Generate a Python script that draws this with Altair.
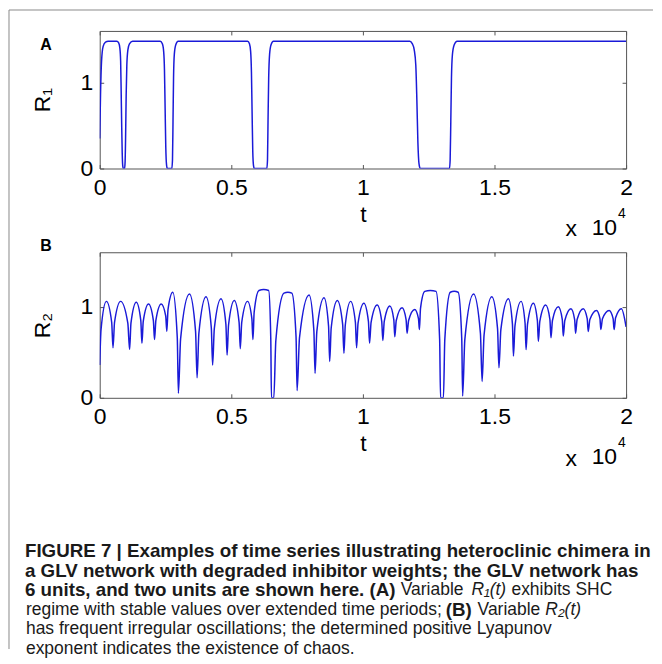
import altair as alt
import pandas as pd

# ---------------- data ----------------
t_domain = [0, 20000]
y_domain = [0, 1.6]
x_tick_values = [0, 5000, 10000, 15000, 20000]
x_tick_labels = ["0", "0.5", "1", "1.5", "2"]
y_tick_values = [0, 1]

# Panel A: R1(t)
r1_t = [0, 30, 70, 130, 220, 320, 650, 720, 765, 795, 815, 835, 855, 875, 900, 945,
        965, 985, 1005, 1030, 1070, 1130, 1250,
        2300, 2380, 2430, 2460, 2485, 2510, 2540, 2570, 2740, 2765, 2785, 2805, 2835, 2890, 2980,
        5620, 5690, 5735, 5765, 5790, 5815, 5845, 5875, 6350, 6375, 6395, 6420, 6455, 6510, 6600,
        11780, 11880, 11950, 12010, 12050, 12090, 12130, 12180, 13290, 13315, 13340, 13365, 13400,
        13470, 13580, 20000]
r1_v = [0.35, 0.85, 1.25, 1.42, 1.47, 1.48, 1.48, 1.46, 1.40, 1.25, 0.90, 0.50, 0.18, 0.03, 0.00, 0.00,
        0.08, 0.40, 0.85, 1.20, 1.38, 1.45, 1.48,
        1.48, 1.45, 1.36, 1.15, 0.70, 0.25, 0.04, 0.00, 0.00, 0.10, 0.55, 1.05, 1.33, 1.44, 1.48,
        1.48, 1.45, 1.36, 1.12, 0.65, 0.20, 0.03, 0.00, 0.00, 0.10, 0.55, 1.05, 1.33, 1.44, 1.48,
        1.48, 1.45, 1.38, 1.20, 0.80, 0.30, 0.06, 0.00, 0.00, 0.10, 0.55, 1.05, 1.32,
        1.44, 1.48, 1.48]

# Panel B: R2(t)
r2_t = [0, 50, 253,
        455, 505, 563, 795,
        1068, 1136, 1187, 1390,
        1561, 1604, 1654, 1856,
        2038, 2083, 2134, 2337,
        2507, 2550, 2595, 2777,
        2947, 2990, 3074, 3409,
        3642, 3700, 3768, 4040,
        4240, 4290, 4354, 4609,
        4794, 4840, 4895, 5114,
        5296, 5341, 5396, 5617,
        5781, 5822, 5868, 6050, 6230, 6420,
        6500, 6525, 6615, 6692, 7000, 7150, 7300,
        7460, 7500, 7591, 7955,
        8137, 8182, 8250, 8523,
        8695, 8738, 8796, 9028,
        9230, 9280, 9331, 9533,
        9715, 9760, 9816, 10038,
        10210, 10253, 10311, 10543,
        10715, 10758, 10811, 11023,
        11174, 11212, 11267, 11489,
        11641, 11679, 11737, 11970,
        12112, 12147, 12188, 12350, 12560, 12780,
        12916, 12950, 13060, 13112, 13320, 13470, 13620,
        13756, 13790, 13873, 14205,
        14465, 14530, 14604, 14899,
        15116, 15170, 15242, 15530,
        15682, 15720, 15778, 16010,
        16162, 16200, 16255, 16477,
        16629, 16667, 16722, 16944,
        17106, 17146, 17202, 17424,
        17576, 17614, 17672, 17905,
        18046, 18081, 18139, 18371,
        18523, 18561, 18624, 18876,
        19007, 19040, 19103, 19356,
        19507, 19545, 19601, 19823,
        20000]
r2_v = [0.36, 0.75, 1.06,
        0.83, 0.55, 0.83, 1.06,
        0.82, 0.53, 0.82, 1.05,
        0.85, 0.60, 0.84, 1.03,
        0.85, 0.64, 0.85, 1.03,
        0.90, 0.73, 0.97, 1.16,
        0.66, 0.05, 0.65, 1.14,
        0.73, 0.22, 0.71, 1.11,
        0.77, 0.36, 0.76, 1.09,
        0.81, 0.47, 0.80, 1.07,
        0.83, 0.54, 0.83, 1.06,
        0.87, 0.64, 0.94, 1.18, 1.19, 1.18,
        0.65, 0.00, 0.00, 0.63, 1.15, 1.16, 1.15,
        0.67, 0.08, 0.66, 1.13,
        0.74, 0.27, 0.73, 1.10,
        0.79, 0.40, 0.77, 1.07,
        0.81, 0.49, 0.80, 1.06,
        0.83, 0.55, 0.82, 1.04,
        0.84, 0.60, 0.83, 1.02,
        0.84, 0.63, 0.84, 1.01,
        0.86, 0.67, 0.85, 0.99,
        0.86, 0.71, 0.85, 0.97,
        0.87, 0.75, 0.98, 1.17, 1.18, 1.17,
        0.64, 0.00, 0.00, 0.64, 1.16, 1.17, 1.16,
        0.65, 0.02, 0.64, 1.14,
        0.71, 0.18, 0.69, 1.11,
        0.76, 0.33, 0.75, 1.09,
        0.81, 0.46, 0.79, 1.06,
        0.82, 0.53, 0.81, 1.04,
        0.85, 0.62, 0.84, 1.02,
        0.86, 0.66, 0.85, 1.00,
        0.86, 0.68, 0.85, 0.98,
        0.86, 0.71, 0.86, 0.98,
        0.87, 0.73, 0.86, 0.96,
        0.87, 0.75, 0.87, 0.96,
        0.87, 0.75, 0.88, 0.98,
        0.78]

panel_letters = ["A", "B"]
y_titles = ["R\u2081", "R\u2082"]
x_title = "t"
exp_times = "x"
exp_base = "10"
exp_power = "4"

caption_text = [
    "FIGURE 7 | Examples of time series illustrating heteroclinic chimera in",
    "a GLV network with degraded inhibitor weights; the GLV network has",
    "6 units, and two units are shown here. (A)",
    "Variable",
    "R\u2081(t)",
    "exhibits SHC",
    "regime with stable values over extended time periods;",
    "(B)",
    "Variable",
    "R\u2082(t)",
    "has frequent irregular oscillations; the determined positive Lyapunov",
    "exponent indicates the existence of chaos.",
]
caption_style = ["bold", "bold", "bold", "normal", "italic", "normal",
                 "normal", "bold", "normal", "italic", "normal", "normal"]
caption_line = [0, 1, 2, 2, 2, 2, 3, 3, 3, 3, 4, 5]

# ---------------- layout / style ----------------
W = 528
HA = 138
HB = 146
LEFT = 99          # page x of plot left edge
BLUE = "#1a1ad8"
FRAME = "#555555"
TICK_FONT = "Liberation Sans, Arial, sans-serif"
CAP_FONT = "Liberation Sans, Arial, sans-serif"
CAP_BOLD_SIZE = 18.8
CAP_REG_SIZE = 17.5
caption_x = [24, 24, 24, 401, 472, 512, 25, 446, 478, 546, 25, 25]
caption_y0 = 300   # relative to panel B top
caption_dy = 19.5

label_expr = "[" + ",".join("'%s'" % s for s in x_tick_labels) + "][indexof([" + \
    ",".join(str(v) for v in x_tick_values) + "], datum.value)]"

dummy = pd.DataFrame({"k": [0]})


def txt(s, x, y, size, weight="normal", style="normal", font=TICK_FONT,
        align="left", baseline="middle", color="#000000"):
    return alt.Chart(dummy).mark_text(
        text=s, align=align, baseline=baseline, fontSize=size, fontWeight=weight,
        fontStyle=style, font=font, color=color
    ).encode(x=alt.value(x), y=alt.value(y))


def panel(t, v, h, letter, letter_y, ytitle, extra):
    df = pd.DataFrame({"t": t, "v": v})
    sx = alt.Scale(domain=t_domain, nice=False, zero=False)
    sy = alt.Scale(domain=y_domain, nice=False, zero=False)
    line = alt.Chart(df).mark_line(
        color=BLUE, strokeWidth=1.5, interpolate="monotone", clip=True
    ).encode(
        x=alt.X("t:Q", scale=sx, axis=alt.Axis(
            orient="bottom", values=x_tick_values, labelExpr=label_expr, title=x_title,
            offset=-4, tickSize=4, labelPadding=8, titlePadding=4,
            labelFlush=False, labelOverlap=False, labelBound=False)),
        y=alt.Y("v:Q", scale=sy, axis=alt.Axis(
            orient="left", values=y_tick_values, title=ytitle, offset=-4, tickSize=4,
            labelPadding=7, titlePadding=26, labelFlush=False, labelOverlap=False,
            labelBound=False)),
    )
    ghost = alt.Chart(df).mark_line(strokeOpacity=0).encode(
        x=alt.X("t:Q", scale=sx, axis=alt.Axis(
            orient="top", values=x_tick_values, labels=False, title="",
            offset=-4, tickSize=4)),
        y=alt.Y("v:Q", scale=sy, axis=alt.Axis(
            orient="right", values=y_tick_values, labels=False, title="",
            offset=-4, tickSize=4)),
    )
    layers = [line, ghost,
              txt(letter, -54, letter_y, 16, weight="bold", align="center"),
              txt(exp_times, 473, h + 61, 23, align="center"),
              txt(exp_base, 519, h + 59.5, 23, align="right"),
              txt(exp_power, 520, h + 45.5, 14, align="left")]
    layers += extra
    return alt.layer(*layers).resolve_scale(x="independent", y="independent").properties(
        width=W, height=h)


# outer figure border (left and top)
border = [
    alt.Chart(dummy).mark_rule(color="#8a8a8a", strokeWidth=1).encode(
        x=alt.value(-91), x2=alt.value(555), y=alt.value(-21)),
    alt.Chart(dummy).mark_rule(color="#8a8a8a", strokeWidth=1).encode(
        x=alt.value(-91), y=alt.value(-21), y2=alt.value(620)),
]

caption = []
for s, st, ln, px in zip(caption_text, caption_style, caption_line, caption_x):
    caption.append(txt(
        s, px - LEFT, caption_y0 + ln * caption_dy,
        CAP_BOLD_SIZE if st == "bold" else CAP_REG_SIZE,
        weight="bold" if st == "bold" else "normal",
        style="italic" if st == "italic" else "normal",
        font=CAP_FONT, color="#1a1a1a"))

chartA = panel(r1_t, r1_v, HA, panel_letters[0], 14.5, y_titles[0], border)
chartB = panel(r2_t, r2_v, HB, panel_letters[1], -6, y_titles[1], caption)

chart = alt.vconcat(chartA, chartB, spacing=84, bounds="flush").properties(
    padding=0, background="white"
).configure_view(
    stroke=FRAME, strokeWidth=1
).configure_axis(
    domain=False, grid=False, tickColor=FRAME, tickWidth=1,
    labelFont=TICK_FONT, labelFontSize=23, labelColor="#000000",
    titleFont=TICK_FONT, titleFontSize=23, titleFontWeight="normal", titleColor="#000000"
)

chart.save("out.html", embed_options={"renderer": "svg", "actions": False})
